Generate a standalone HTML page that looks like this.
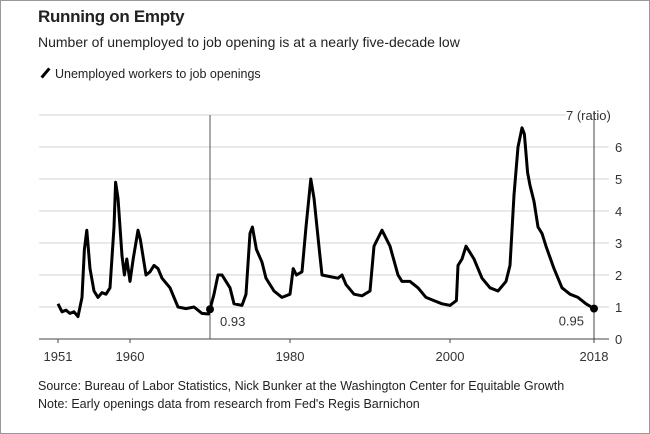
<!DOCTYPE html>
<html><head><meta charset="utf-8"><style>
html,body{margin:0;padding:0;background:#fff;}
#wrap{position:relative;width:648px;height:432px;border:1px solid #999;overflow:hidden;font-family:"Liberation Sans",sans-serif;color:#222;}
.t{position:absolute;white-space:nowrap;}
</style></head><body>
<div id="wrap">
<div class="t" style="left:37px;top:6px;font-size:17px;font-weight:bold;letter-spacing:-0.3px">Running on Empty</div>
<div class="t" style="left:37px;top:33px;font-size:14px">Number of unemployed to job opening is at a nearly five-decade low</div>
<div class="t" style="left:37px;top:66px;font-size:12.5px"><span style="display:inline-block;width:3px;height:12px;background:#000;transform:rotate(40deg);margin:0 8px -1px 6px"></span>Unemployed workers to job openings</div>
<svg id="chart" width="648" height="432" style="position:absolute;left:0;top:0"></svg>
<div class="t" style="left:37px;top:378px;font-size:12.5px">Source: Bureau of Labor Statistics, Nick Bunker at the Washington Center for Equitable Growth</div>
<div class="t" style="left:37px;top:396px;font-size:12.5px">Note: Early openings data from research from Fed's Regis Barnichon</div>
</div>
<script>
const years=[1951,1951.5,1952,1952.5,1953,1953.5,1954,1954.3,1954.6,1955,1955.5,1956,1956.5,1957,1957.5,1958,1958.2,1958.5,1959,1959.3,1959.6,1960,1960.4,1961,1961.3,1962,1962.5,1963,1963.5,1964,1965,1966,1967,1968,1969,1969.8,1970,1970.5,1971,1971.5,1972,1972.5,1973,1974,1974.5,1975,1975.3,1975.8,1976.5,1977,1978,1979,1980,1980.4,1980.8,1981.5,1982,1982.6,1983,1983.7,1984,1985,1986,1986.5,1987,1988,1989,1990,1990.5,1991.5,1992.5,1993.5,1994,1995,1996,1997,1998,1999,2000,2000.8,2001,2001.5,2002,2002.5,2003,2004,2005,2006,2007,2007.5,2008,2008.5,2009,2009.3,2009.7,2010,2010.5,2011,2011.5,2012,2013,2014,2015,2016,2017,2018];
const ratios=[1.1,0.85,0.9,0.8,0.85,0.7,1.3,2.8,3.4,2.2,1.5,1.3,1.45,1.4,1.6,3.5,4.9,4.4,2.6,2.0,2.5,1.8,2.5,3.4,3.1,2.0,2.1,2.3,2.2,1.9,1.6,1.0,0.95,1.0,0.8,0.78,0.93,1.4,2.0,2.0,1.8,1.6,1.1,1.05,1.4,3.3,3.5,2.8,2.4,1.9,1.5,1.3,1.4,2.2,2.0,2.1,3.5,5.0,4.4,2.7,2.0,1.95,1.9,2.0,1.7,1.4,1.35,1.5,2.9,3.4,2.9,2.0,1.8,1.8,1.6,1.3,1.2,1.1,1.05,1.2,2.3,2.5,2.9,2.7,2.5,1.9,1.6,1.5,1.8,2.3,4.5,6.0,6.6,6.4,5.2,4.8,4.3,3.5,3.3,2.9,2.2,1.6,1.4,1.3,1.1,0.95];
const yTicks=[0,1,2,3,4,5,6,7];
const xTicks=[1951,1960,1980,2000,2018];
const callouts=[[1970,0.93,"0.93"],[2018,0.95,"0.95"]];
const NS="http://www.w3.org/2000/svg";
const svg=document.getElementById('chart');
const x=yr=>129+(yr-1960)*8;
const y=v=>338-32*v;
function mk(t,a){const e=document.createElementNS(NS,t);for(const k in a)e.setAttribute(k,a[k]);svg.appendChild(e);return e;}
yTicks.forEach(v=>{
 if(v>0){const g=mk('line',{x1:38,x2:v==7?565:608,y1:y(v),y2:y(v),stroke:'#e3e3e3','stroke-width':1.5});
 
 }
 const t=mk('text',{x:v==7?565:614,y:y(v)+5,'font-size':13,fill:'#333','font-family':'Liberation Sans, sans-serif'});
 t.textContent=v==7?'7 (ratio)':v;
 
 
});
const ax=mk('line',{x1:38,x2:608,y1:y(0),y2:y(0),stroke:'#444','stroke-width':1});


const ra=mk('line',{x1:x(2018),x2:x(2018),y1:y(7)-4,y2:y(0),stroke:'#444','stroke-width':1});


const vl=mk('line',{x1:x(1970),x2:x(1970),y1:y(7),y2:y(0),stroke:'#555','stroke-width':1});


xTicks.forEach(v=>{
 mk('line',{x1:x(v),x2:x(v),y1:y(0),y2:y(0)+4,stroke:'#444'});
 const t=mk('text',{x:x(v),y:y(0)+22,'font-size':13,fill:'#333','text-anchor':'middle','font-family':'Liberation Sans, sans-serif'});
 t.textContent=v;
 
 
});
const p=mk('path',{d:years.map((yr,i)=>(i?'L':'M')+x(yr).toFixed(1)+' '+y(ratios[i]).toFixed(1)).join(' '),fill:'none',stroke:'#000','stroke-width':3,'stroke-linejoin':'round'});


callouts.forEach((c,i)=>{
 const d=mk('circle',{cx:x(c[0]),cy:y(c[1]),r:4,fill:'#000'});
 
 
 const t=mk('text',{x:i?x(c[0])-10:x(c[0])+10,y:y(c[1])+17,'font-size':13,fill:'#333','text-anchor':i?'end':'start','font-family':'Liberation Sans, sans-serif'});
 t.textContent=c[2];
 
 
});
</script>
</body></html>
